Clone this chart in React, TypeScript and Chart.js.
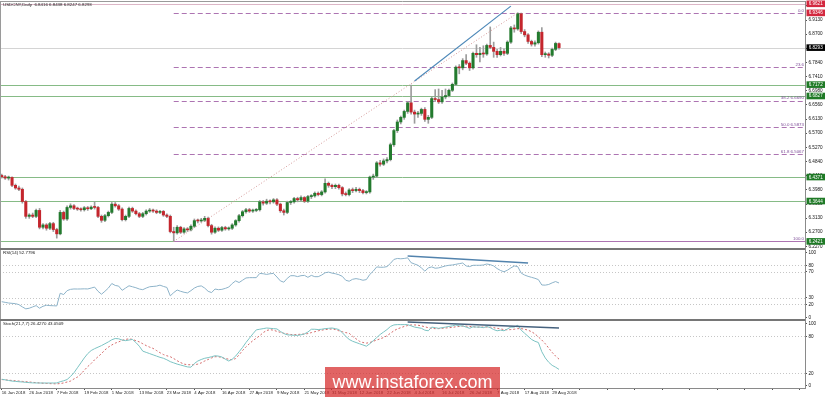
import { useEffect, useRef } from "react";
import { Chart, registerables } from "chart.js";

Chart.register(...registerables);

const FONT = "'Liberation Sans', Arial, sans-serif";

const chartTitle = "USDCNY,Daily  6.8416 6.8438 6.8247 6.8293";
const rsiTitle = "RSI(14) 52.7796";
const stochTitle = "Stoch(21,7,7) 26.4270 43.0509";
const watermark = "www.instaforex.com";

const totalSlots = 234;

const dateTicks = [
  "16 Jan 2018", "26 Jan 2018", "7 Feb 2018", "19 Feb 2018", "1 Mar 2018", "13 Mar 2018",
  "23 Mar 2018", "4 Apr 2018", "16 Apr 2018", "27 Apr 2018", "9 May 2018", "21 May 2018",
  "31 May 2018", "12 Jun 2018", "22 Jun 2018", "4 Jul 2018", "16 Jul 2018", "26 Jul 2018",
  "7 Aug 2018", "17 Aug 2018", "29 Aug 2018",
];

const opens = [
  6.442, 6.438, 6.434, 6.436, 6.412, 6.404, 6.400, 6.363, 6.318, 6.322,
  6.318, 6.336, 6.285, 6.292, 6.282, 6.296, 6.278, 6.265, 6.330, 6.310,
  6.345, 6.350, 6.342, 6.340, 6.338, 6.344, 6.341, 6.346, 6.345, 6.318,
  6.306, 6.320, 6.330, 6.355, 6.350, 6.340, 6.308, 6.318, 6.342, 6.334,
  6.326, 6.318, 6.326, 6.334, 6.337, 6.334, 6.330, 6.333, 6.322, 6.318,
  6.272, 6.268, 6.285, 6.270, 6.280, 6.277, 6.288, 6.305, 6.304, 6.306,
  6.312, 6.290, 6.270, 6.282, 6.276, 6.284, 6.280, 6.282, 6.292, 6.305,
  6.320, 6.332, 6.338, 6.334, 6.336, 6.338, 6.362, 6.358, 6.364, 6.362,
  6.368, 6.355, 6.335, 6.330, 6.360, 6.362, 6.372, 6.368, 6.375, 6.364,
  6.378, 6.380, 6.388, 6.384, 6.392, 6.418, 6.412, 6.408, 6.412, 6.405,
  6.386, 6.384, 6.398, 6.396, 6.400, 6.396, 6.390, 6.392, 6.437, 6.440,
  6.480, 6.476, 6.486, 6.490, 6.535, 6.578, 6.604, 6.618, 6.636, 6.662,
  6.634, 6.628, 6.630, 6.642, 6.612, 6.618, 6.675, 6.672, 6.665, 6.680,
  6.684, 6.700, 6.718, 6.770, 6.768, 6.790, 6.782, 6.768, 6.812, 6.808,
  6.812, 6.810, 6.836, 6.830, 6.818, 6.808, 6.818, 6.812, 6.846, 6.889,
  6.886, 6.932, 6.878, 6.868, 6.848, 6.840, 6.844, 6.876, 6.808, 6.810,
  6.806, 6.824, 6.8416,
];

const highs = [
  6.446, 6.442, 6.440, 6.438, 6.416, 6.410, 6.404, 6.366, 6.326, 6.328,
  6.340, 6.342, 6.296, 6.296, 6.300, 6.300, 6.282, 6.336, 6.334, 6.350,
  6.356, 6.354, 6.346, 6.344, 6.348, 6.348, 6.350, 6.362, 6.348, 6.322,
  6.324, 6.334, 6.360, 6.360, 6.354, 6.344, 6.322, 6.346, 6.346, 6.338,
  6.330, 6.330, 6.338, 6.342, 6.340, 6.338, 6.336, 6.336, 6.326, 6.322,
  6.285, 6.290, 6.288, 6.284, 6.284, 6.292, 6.310, 6.310, 6.312, 6.318,
  6.316, 6.294, 6.286, 6.286, 6.288, 6.288, 6.286, 6.296, 6.308, 6.324,
  6.336, 6.342, 6.342, 6.340, 6.342, 6.366, 6.366, 6.370, 6.368, 6.372,
  6.372, 6.358, 6.340, 6.364, 6.366, 6.376, 6.376, 6.380, 6.378, 6.382,
  6.384, 6.392, 6.392, 6.396, 6.432, 6.422, 6.416, 6.416, 6.416, 6.408,
  6.392, 6.402, 6.404, 6.406, 6.404, 6.400, 6.396, 6.440, 6.446, 6.484,
  6.488, 6.492, 6.496, 6.540, 6.582, 6.610, 6.622, 6.640, 6.666, 6.716,
  6.640, 6.636, 6.646, 6.648, 6.624, 6.680, 6.702, 6.704, 6.700, 6.704,
  6.704, 6.722, 6.774, 6.778, 6.796, 6.808, 6.786, 6.816, 6.838, 6.830,
  6.835, 6.840, 6.892, 6.846, 6.824, 6.830, 6.826, 6.850, 6.894, 6.898,
  6.935, 6.934, 6.884, 6.872, 6.852, 6.850, 6.880, 6.890, 6.816, 6.814,
  6.828, 6.846, 6.8438,
];

const lows = [
  6.434, 6.430, 6.428, 6.408, 6.400, 6.396, 6.358, 6.312, 6.312, 6.314,
  6.314, 6.280, 6.280, 6.276, 6.278, 6.272, 6.252, 6.262, 6.306, 6.306,
  6.340, 6.338, 6.336, 6.334, 6.334, 6.336, 6.338, 6.340, 6.314, 6.300,
  6.302, 6.316, 6.326, 6.346, 6.336, 6.304, 6.304, 6.314, 6.330, 6.322,
  6.314, 6.314, 6.322, 6.330, 6.330, 6.326, 6.326, 6.318, 6.314, 6.268,
  6.242, 6.264, 6.266, 6.266, 6.272, 6.274, 6.284, 6.298, 6.300, 6.302,
  6.286, 6.264, 6.266, 6.272, 6.272, 6.276, 6.276, 6.278, 6.288, 6.300,
  6.316, 6.328, 6.330, 6.330, 6.332, 6.334, 6.352, 6.354, 6.356, 6.358,
  6.350, 6.330, 6.322, 6.326, 6.354, 6.358, 6.362, 6.364, 6.360, 6.360,
  6.372, 6.376, 6.380, 6.380, 6.388, 6.406, 6.402, 6.402, 6.400, 6.380,
  6.380, 6.380, 6.390, 6.392, 6.390, 6.386, 6.386, 6.388, 6.430, 6.436,
  6.470, 6.472, 6.480, 6.486, 6.530, 6.572, 6.598, 6.612, 6.630, 6.628,
  6.600, 6.618, 6.624, 6.606, 6.600, 6.614, 6.666, 6.660, 6.660, 6.674,
  6.680, 6.696, 6.714, 6.750, 6.762, 6.778, 6.760, 6.764, 6.800, 6.786,
  6.800, 6.806, 6.826, 6.800, 6.800, 6.804, 6.806, 6.808, 6.842, 6.876,
  6.882, 6.872, 6.862, 6.842, 6.834, 6.834, 6.840, 6.802, 6.800, 6.798,
  6.802, 6.820, 6.8247,
];

const closes = [
  6.438, 6.434, 6.436, 6.412, 6.404, 6.400, 6.363, 6.318, 6.322, 6.318,
  6.336, 6.285, 6.292, 6.282, 6.296, 6.278, 6.265, 6.330, 6.310, 6.345,
  6.350, 6.342, 6.340, 6.338, 6.344, 6.341, 6.346, 6.345, 6.318, 6.306,
  6.320, 6.330, 6.355, 6.350, 6.340, 6.308, 6.318, 6.342, 6.334, 6.326,
  6.318, 6.326, 6.334, 6.337, 6.334, 6.330, 6.333, 6.322, 6.318, 6.272,
  6.268, 6.285, 6.270, 6.280, 6.277, 6.288, 6.305, 6.304, 6.306, 6.312,
  6.290, 6.270, 6.282, 6.276, 6.284, 6.280, 6.282, 6.292, 6.305, 6.320,
  6.332, 6.338, 6.334, 6.336, 6.338, 6.362, 6.358, 6.364, 6.362, 6.368,
  6.355, 6.335, 6.330, 6.360, 6.362, 6.372, 6.368, 6.375, 6.364, 6.378,
  6.380, 6.388, 6.384, 6.392, 6.418, 6.412, 6.408, 6.412, 6.405, 6.386,
  6.384, 6.398, 6.396, 6.400, 6.396, 6.390, 6.392, 6.437, 6.440, 6.480,
  6.476, 6.486, 6.490, 6.535, 6.578, 6.604, 6.618, 6.636, 6.662, 6.634,
  6.628, 6.630, 6.642, 6.612, 6.618, 6.675, 6.672, 6.665, 6.680, 6.684,
  6.700, 6.718, 6.770, 6.768, 6.790, 6.782, 6.768, 6.812, 6.808, 6.812,
  6.810, 6.836, 6.830, 6.818, 6.808, 6.818, 6.812, 6.846, 6.889, 6.886,
  6.932, 6.878, 6.868, 6.848, 6.840, 6.844, 6.876, 6.808, 6.810, 6.806,
  6.824, 6.842, 6.8293,
];

const rsiValues = [
  24, 23, 22, 21.5, 21, 19.5, 16, 13, 14, 16,
  18, 14, 17, 18.5, 18, 17.8, 17.5, 37, 35, 41,
  43, 43.6, 43.5, 43.6, 43.8, 43.6, 45, 46.5, 40, 35.5,
  40, 45, 52, 49, 48, 41.5, 45, 48.5, 47, 45.5,
  43.5, 42.5, 45, 47, 47.5, 48, 49.5, 47.5, 46, 33,
  38, 42, 40, 38.5, 37.5, 41, 45, 47.5, 48.3, 45,
  40, 38, 43.5, 42.5, 43, 44.5, 46.5, 52, 56, 53.5,
  57, 60.5, 61, 61, 61, 67.5, 67, 66, 67, 67.5,
  62, 56, 54, 60, 64, 64, 62.6, 64, 64.5, 61.5,
  64.5, 62.5, 62.5, 65, 68.5, 69.5, 68, 67, 65.5, 63,
  57, 55.5, 58.5, 59.5, 58.5, 57, 58, 66, 71, 77.5,
  77, 77, 78, 83, 89, 90.5, 90, 90.5, 91.5, 84,
  82, 80, 76, 71, 76, 77.5, 75.5, 76, 77.5, 79,
  80, 80.5, 81.5, 82.5, 83.5, 79, 78, 80, 80, 80,
  80.5, 82, 81, 79, 75, 72, 70, 72.5, 76, 79,
  78, 68, 65, 63, 61.5, 60, 58, 49.7, 49.5, 50.5,
  53, 55, 52.78,
];

const stochMain = [
  10.5, 9.5, 8.5, 7.5, 7, 6.5, 6, 5.5, 5, 4.6,
  4.5, 4.4, 4.4, 4.4, 4.4, 4.4, 4.5, 6.5, 8, 10,
  15, 21, 29, 37, 45, 52, 57, 60, 62.5, 65,
  68, 71, 74.5, 76.5, 76, 74, 73, 74, 75, 70,
  64, 56, 54, 52, 50, 48, 46, 44.5, 42, 39,
  37, 35, 33.5, 32, 30.5, 30, 36, 40, 42.5, 44.5,
  45.5, 47, 48.5, 48, 46.5, 43, 40, 43, 48, 55,
  62, 70, 77, 84, 90.5, 91.5, 92.5, 93.5, 93, 92.5,
  92, 88, 84.5, 82.5, 82, 81.8, 81.5, 82.5, 84, 87,
  91.5, 91.5, 91, 91.5, 92.5, 93, 93.5, 92.5, 91, 86,
  80, 75, 72, 70, 68, 66, 64, 68, 73, 78,
  83, 87, 91, 96, 98.5, 99, 99, 99, 99, 97,
  95, 94, 93, 90, 89, 95, 94, 93, 94, 95,
  96, 97, 98.5, 97, 97, 95, 93, 95.5, 95, 95,
  94, 96, 94, 91, 89, 90, 89, 92, 95, 95,
  98, 90, 85, 80, 75, 72, 70, 55, 45, 38,
  33, 30, 26.43,
];

const stochSignal = [
  10, 9.5, 9, 8.5, 8, 7.5, 7, 6.5, 6, 5.5,
  5, 4.5, 4, 3.7, 3.4, 3.2, 3, 3.5, 4.5, 6,
  7.5, 11, 14, 19, 25, 31, 36, 42, 47, 52,
  58, 62.5, 66, 69, 71, 73.5, 75, 76, 75, 73,
  71, 68, 65, 62.5, 60.5, 57, 53.5, 50.5, 48.5, 47,
  44, 40.5, 37.5, 35, 34, 34, 34, 35, 37, 40,
  42.5, 45, 47, 47, 45.5, 44, 43, 42, 44, 50,
  57, 63, 68, 73, 77, 81, 86, 89.5, 90.8, 90,
  88, 86.5, 85, 84, 83, 82.6, 83, 83.5, 83.7, 84.5,
  86, 87.5, 89, 90, 91, 91.5, 92, 91, 89, 87.5,
  86, 85, 80, 76, 72, 70, 69, 70, 72, 74,
  76, 78, 81, 85, 89, 92, 94, 96, 97.5, 98.5,
  98.5, 98, 97, 95.5, 94, 93, 92.5, 92.5, 93, 93.5,
  94, 94.5, 95.5, 96, 96.5, 96.5, 96, 95.5, 95, 95,
  95, 95, 95, 94, 93, 92, 91, 90.5, 91, 91.5,
  92.5, 92.5, 91.5, 90, 87.5, 84, 79, 74, 68, 61,
  54, 48, 43.05,
];

const priceTicks = [
  6.956, 6.913, 6.87, 6.827, 6.784, 6.741, 6.698, 6.656, 6.613,
  6.57, 6.527, 6.484, 6.441, 6.398, 6.355, 6.313, 6.27, 6.227,
];
const rsiTicks = [0, 20, 30, 70, 80, 100];
const stochTicks = [0, 20, 80, 100];
const rsiLevels = [20, 30, 70, 80];
const stochLevels = [20, 80];

const supportLevels = [6.7172, 6.6827, 6.4371, 6.3644, 6.2421];
const highMarks = [6.9621, 6.9346];
const lastClose = 6.8293;

const fibStartIndex = 50;
const fibPrices = [6.9346, 6.7712, 6.669, 6.5873, 6.5067, 6.2421];
const fibLabels = ["0.0", "23.6", "38.2 6.6690", "50.0 6.5873", "61.8 6.5067", "100.0"];

// trend lines: [startIndex, startValue, endIndex, endValue]
const fibDiagonal = [50, 6.2421, 150, 6.9346];
const priceTrend = [120, 6.728, 148, 6.955];
const rsiTrend = [118, 94.3, 153, 83.5];
const stochTrend = [118, 103.2, 162, 93.5];

const BULL = "#237a2e";
const BEAR = "#c4262d";

const noPad = (s: any) => {
  s.paddingTop = 0;
  s.paddingBottom = 0;
  s.paddingLeft = 0;
  s.paddingRight = 0;
};

const overlayPlugin = {
  id: "overlay",
  beforeDatasetsDraw(chart: any) {
    const { ctx, chartArea } = chart;
    const { left, right } = chartArea;
    const X = chart.scales.x, Y = chart.scales.y, R = chart.scales.rsi, S = chart.scales.stoch;
    const hline = (py: number, x0: number, x1: number, color: string, dash: number[]) => {
      ctx.beginPath();
      ctx.setLineDash(dash);
      ctx.strokeStyle = color;
      ctx.lineWidth = 1;
      const yy = Math.round(py) + 0.5;
      ctx.moveTo(x0, yy);
      ctx.lineTo(x1, yy);
      ctx.stroke();
    };
    ctx.save();
    rsiLevels.forEach((v) => hline(R.getPixelForValue(v), left, right, "#c6c6c6", [1, 2]));
    stochLevels.forEach((v) => hline(S.getPixelForValue(v), left, right, "#c6c6c6", [1, 2]));
    hline(Y.getPixelForValue(highMarks[0]), left, right, "#dcb6c6", []);
    hline(Y.getPixelForValue(lastClose), left, right, "#d4d4d4", []);
    supportLevels.forEach((v) => hline(Y.getPixelForValue(v), left, right, "#86bb86", []));
    const fx0 = X.getPixelForValue(fibStartIndex);
    fibPrices.forEach((v, i) =>
      hline(Y.getPixelForValue(v), fx0, right, "#ad74b2", i === fibPrices.length - 1 ? [] : [5, 3])
    );
    ctx.restore();
  },
  afterDatasetsDraw(chart: any) {
    const { ctx } = chart;
    const X = chart.scales.x;
    const seg = (scale: any, t: number[], color: string, width: number, dash: number[]) => {
      ctx.beginPath();
      ctx.setLineDash(dash);
      ctx.strokeStyle = color;
      ctx.lineWidth = width;
      ctx.moveTo(X.getPixelForValue(t[0]), scale.getPixelForValue(t[1]));
      ctx.lineTo(X.getPixelForValue(t[2]), scale.getPixelForValue(t[3]));
      ctx.stroke();
    };
    ctx.save();
    seg(chart.scales.y, fibDiagonal, "#d49a9a", 1, [1, 2]);
    seg(chart.scales.y, priceTrend, "#4d88b8", 1.2, []);
    seg(chart.scales.rsi, rsiTrend, "#5283ad", 1.3, []);
    seg(chart.scales.stoch, stochTrend, "#46627e", 1.5, []);
    ctx.restore();
  },
  afterDraw(chart: any) {
    const { ctx, chartArea } = chart;
    const { left, right } = chartArea;
    const Y = chart.scales.y, R = chart.scales.rsi, S = chart.scales.stoch;
    ctx.save();
    ctx.setLineDash([]);
    // panel frames
    ctx.strokeStyle = "#9a9a9a";
    ctx.lineWidth = 1;
    ctx.beginPath();
    ctx.moveTo(left, Y.top + 0.5);
    ctx.lineTo(right, Y.top + 0.5);
    ctx.moveTo(left + 0.5, Y.top);
    ctx.lineTo(left + 0.5, S.bottom);
    ctx.stroke();
    ctx.strokeStyle = "#767676";
    ctx.lineWidth = 2;
    ctx.beginPath();
    ctx.moveTo(left, Math.round(Y.bottom) + 1);
    ctx.lineTo(right, Math.round(Y.bottom) + 1);
    ctx.moveTo(left, Math.round(R.bottom) + 1);
    ctx.lineTo(right, Math.round(R.bottom) + 1);
    ctx.stroke();

    // titles
    ctx.font = `4.4px ${FONT}`;
    ctx.fillStyle = "#1a1a1a";
    ctx.textBaseline = "middle";
    ctx.textAlign = "left";
    ctx.fillText(chartTitle, 3, Y.top + 3.8);
    ctx.fillText(rsiTitle, 3, R.top + 5);
    ctx.fillText(stochTitle, 3, S.top + 5);

    // fib labels
    ctx.fillStyle = "#7e4d98";
    ctx.textAlign = "right";
    ctx.textBaseline = "bottom";
    fibPrices.forEach((v, i) => {
      ctx.fillText(fibLabels[i], right - 1, Y.getPixelForValue(v) - 0.3);
    });

    // axis tags
    const tag = (value: number, bg: string) => {
      const yy = Y.getPixelForValue(value);
      ctx.fillStyle = bg;
      ctx.fillRect(right + 1.5, yy - 3.3, 18.5, 6.6);
      ctx.fillStyle = "#ffffff";
      ctx.textAlign = "center";
      ctx.textBaseline = "middle";
      ctx.font = `4.6px ${FONT}`;
      ctx.fillText(value.toFixed(4), right + 10.7, yy + 0.2);
    };
    highMarks.forEach((v) => tag(v, "#d3283f"));
    tag(lastClose, "#000000");
    supportLevels.forEach((v) => tag(v, "#1f7a26"));

    // watermark
    ctx.fillStyle = "rgba(214, 46, 46, 0.74)";
    ctx.fillRect(325, 367, 175, 30);
    ctx.fillStyle = "#ffffff";
    ctx.font = `18px ${FONT}`;
    ctx.textAlign = "center";
    ctx.textBaseline = "middle";
    ctx.fillText(watermark, 412.5, 383);
    ctx.restore();
  },
};

export default function App() {
  const ref = useRef<HTMLCanvasElement | null>(null);

  useEffect(() => {
    document.body.style.margin = "0";
    const canvas = ref.current;
    if (!canvas) return;
    const slots = Array.from({ length: totalSlots }, (_, i) => i);
    const bodyColors = opens.map((o, i) => (closes[i] >= o ? BULL : BEAR));
    const tickFont = { size: 4.6, family: FONT };

    const chart = new Chart(canvas, {
      type: "bar",
      data: {
        labels: slots,
        datasets: [
          {
            type: "bar",
            data: opens.map((o, i) => [o, closes[i]]),
            backgroundColor: bodyColors,
            barThickness: 2.4,
            grouped: false,
            minBarLength: 1,
            yAxisID: "y",
            order: 0,
          } as any,
          {
            type: "bar",
            data: lows.map((l, i) => [l, highs[i]]),
            backgroundColor: "#9c9c9c",
            barThickness: 1,
            grouped: false,
            yAxisID: "y",
            order: 1,
          } as any,
          {
            type: "line",
            data: rsiValues,
            yAxisID: "rsi",
            borderColor: "#8db3c9",
            borderWidth: 1,
            pointRadius: 0,
            tension: 0,
            order: 2,
          } as any,
          {
            type: "line",
            data: stochSignal,
            yAxisID: "stoch",
            borderColor: "#d46a6a",
            borderWidth: 1,
            borderDash: [2, 2],
            pointRadius: 0,
            tension: 0,
            order: 3,
          } as any,
          {
            type: "line",
            data: stochMain,
            yAxisID: "stoch",
            borderColor: "#7cc3c3",
            borderWidth: 1,
            pointRadius: 0,
            tension: 0,
            order: 2,
          } as any,
        ],
      },
      options: {
        responsive: false,
        animation: false,
        devicePixelRatio: 1,
        events: [],
        layout: { padding: { top: 1, left: 0, right: 0, bottom: 0 } },
        plugins: { legend: { display: false }, tooltip: { enabled: false } },
        scales: {
          x: {
            type: "category",
            offset: true,
            grid: {
              display: true,
              drawOnChartArea: false,
              offset: false,
              color: "transparent",
              tickColor: (c: any) => (c.index % 8 === 0 ? "#555555" : "transparent"),
              tickLength: 2,
            },
            border: { display: true, color: "#8a8a8a" },
            ticks: {
              autoSkip: false,
              maxRotation: 0,
              minRotation: 0,
              align: "start",
              padding: 0.5,
              color: "#222222",
              font: { size: 4.3, family: FONT },
              callback: (_v: any, i: number) => (i % 8 === 0 && dateTicks[i / 8] ? dateTicks[i / 8] : ""),
            },
            afterFit: (s: any) => {
              s.height = 9;
              noPad(s);
            },
          },
          y: {
            type: "linear",
            axis: "y",
            position: "right",
            stack: "panes",
            stackWeight: 247,
            min: 6.2221,
            max: 6.9706,
            grid: { drawOnChartArea: false, color: "transparent", tickColor: "#555555", tickLength: 2 },
            border: { color: "#8a8a8a" },
            ticks: {
              autoSkip: false,
              padding: 1.5,
              color: "#111111",
              font: tickFont,
              callback: (v: any) => Number(v).toFixed(4),
            },
            afterBuildTicks: (s: any) => {
              s.ticks = priceTicks.map((v) => ({ value: v }));
            },
            afterFit: (s: any) => {
              s.width = 20;
              noPad(s);
            },
          },
          rsi: {
            type: "linear",
            axis: "y",
            position: "right",
            stack: "panes",
            stackWeight: 71,
            min: -2.6,
            max: 106.6,
            grid: { drawOnChartArea: false, color: "transparent", tickColor: "#555555", tickLength: 2 },
            border: { color: "#8a8a8a" },
            ticks: { autoSkip: false, padding: 1.5, color: "#111111", font: tickFont, callback: (v: any) => String(v) },
            afterBuildTicks: (s: any) => {
              s.ticks = rsiTicks.map((v) => ({ value: v }));
            },
            afterFit: (s: any) => {
              s.width = 20;
              noPad(s);
            },
          },
          stoch: {
            type: "linear",
            axis: "y",
            position: "right",
            stack: "panes",
            stackWeight: 69,
            min: -3.7,
            max: 108.1,
            grid: { drawOnChartArea: false, color: "transparent", tickColor: "#555555", tickLength: 2 },
            border: { color: "#8a8a8a" },
            ticks: { autoSkip: false, padding: 1.5, color: "#111111", font: tickFont, callback: (v: any) => String(v) },
            afterBuildTicks: (s: any) => {
              s.ticks = stochTicks.map((v) => ({ value: v }));
            },
            afterFit: (s: any) => {
              s.width = 20;
              noPad(s);
            },
          },
        } as any,
      },
      plugins: [overlayPlugin],
    });

    return () => chart.destroy();
  }, []);

  return (
    <div style={{ width: 825, height: 397 }}>
      <canvas ref={ref} width={825} height={397} style={{ display: "block", width: 825, height: 397 }} />
    </div>
  );
}
